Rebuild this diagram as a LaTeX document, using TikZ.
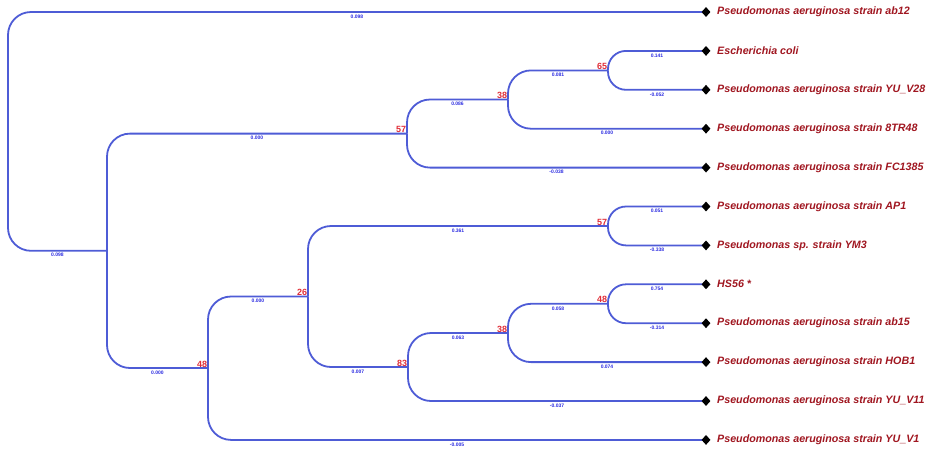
\documentclass[tikz,border=0pt]{standalone}
\usepackage{fontspec}
\setmainfont{Liberation Sans}
\usetikzlibrary{shapes.geometric}
\definecolor{branchblue}{RGB}{78,92,214}
\definecolor{lenblue}{RGB}{45,45,225}
\definecolor{bootred}{RGB}{225,45,55}
\definecolor{leafred}{RGB}{160,22,32}
\tikzset{
  br/.style={draw=branchblue, line width=1.8pt, rounded corners=23pt},
  brs/.style={draw=branchblue, line width=1.8pt, rounded corners=18pt},
  blen/.style={font=\fontsize{5}{5.5}\selectfont\bfseries, text=lenblue, inner sep=0.5pt, below=1.4pt},
  boot/.style={font=\fontsize{9}{10}\selectfont\bfseries, text=bootred, inner sep=0.6pt, anchor=south east},
  leafmark/.style={diamond, fill=black, inner sep=0pt, minimum width=9pt, minimum height=10pt},
  leaftxt/.style={font=\fontsize{10.7}{12}\selectfont\bfseries\itshape, text=leafred, anchor=west, inner sep=0pt}
}
\begin{document}
\begin{tikzpicture}[x=1pt, y=-1pt]
\useasboundingbox (0,0) rectangle (928,451);
% leaf end points
\coordinate (e1) at (706,12);
\coordinate (e2) at (706,50.9);
\coordinate (e3) at (706,89.8);
\coordinate (e4) at (706,128.7);
\coordinate (e5) at (706,167.6);
\coordinate (e6) at (706,206.5);
\coordinate (e7) at (706,245.4);
\coordinate (e8) at (706,284.3);
\coordinate (e9) at (706,323.2);
\coordinate (e10) at (706,362.1);
\coordinate (e11) at (706,401);
\coordinate (e12) at (706,439.9);
% internal nodes
\coordinate (nA) at (107,250.8);
\coordinate (nB) at (407,133.6);
\coordinate (nC) at (508,99.5);
\coordinate (nD) at (608,70.4);
\coordinate (nE) at (208,368);
\coordinate (nF) at (308,296.5);
\coordinate (nG) at (608,226);
\coordinate (nH) at (408,367);
\coordinate (nI) at (508,333);
\coordinate (nJ) at (608,303.8);
\coordinate (rootA) at (8,250.8);
\coordinate (rootM) at (8,131);
% root
\draw[br] (nA) -| (rootM) |- (e1) node[pos=0.75, blen] {0.098};
\path (nA) -- (rootA) node[midway, blen] {0.098};
% upper clade
\draw[br] (nA) |- (nB) node[pos=0.75, blen] {0.000};
\draw[br] (nB) |- (nC) node[pos=0.75, blen] {0.086};
\draw[br] (nB) |- (e5) node[pos=0.75, blen] {-0.038};
\draw[br] (nC) |- (nD) node[pos=0.75, blen] {0.081};
\draw[br] (nC) |- (e4) node[pos=0.75, blen] {0.000};
\draw[brs] (nD) |- (e2) node[pos=0.75, blen] {0.141};
\draw[brs] (nD) |- (e3) node[pos=0.75, blen] {-0.052};
% lower clade
\draw[br] (nA) |- (nE) node[pos=0.75, blen] {0.000};
\draw[br] (nE) |- (nF) node[pos=0.75, blen] {0.000};
\draw[br] (nE) |- (e12) node[pos=0.75, blen] {-0.005};
\draw[br] (nF) |- (nG) node[pos=0.75, blen] {0.361};
\draw[br] (nF) |- (nH) node[pos=0.75, blen] {0.007};
\draw[brs] (nG) |- (e6) node[pos=0.75, blen] {0.051};
\draw[brs] (nG) |- (e7) node[pos=0.75, blen] {-0.338};
\draw[br] (nH) |- (nI) node[pos=0.75, blen] {0.063};
\draw[br] (nH) |- (e11) node[pos=0.75, blen] {-0.037};
\draw[br] (nI) |- (nJ) node[pos=0.75, blen] {0.058};
\draw[br] (nI) |- (e10) node[pos=0.75, blen] {0.074};
\draw[brs] (nJ) |- (e8) node[pos=0.75, blen] {0.754};
\draw[brs] (nJ) |- (e9) node[pos=0.75, blen] {-0.314};
% bootstrap values
\node[boot] (bB) at (nB) {57};
\node[boot] (bC) at (nC) {38};
\node[boot] (bD) at (nD) {65};
\node[boot] (bE) at (nE) {48};
\node[boot] (bF) at (nF) {26};
\node[boot] (bG) at (nG) {57};
\node[boot] (bH) at (nH) {83};
\node[boot] (bI) at (nI) {38};
\node[boot] (bJ) at (nJ) {48};
% leaves
\foreach \i in {1,...,12} {\node[leafmark] (d\i) at (e\i) {};}
\node[leaftxt] (t1) at ([xshift=11pt]e1) {Pseudomonas aeruginosa strain ab12};
\node[leaftxt] (t2) at ([xshift=11pt]e2) {Escherichia coli};
\node[leaftxt] (t3) at ([xshift=11pt]e3) {Pseudomonas aeruginosa strain YU\_V28};
\node[leaftxt] (t4) at ([xshift=11pt]e4) {Pseudomonas aeruginosa strain 8TR48};
\node[leaftxt] (t5) at ([xshift=11pt]e5) {Pseudomonas aeruginosa strain FC1385};
\node[leaftxt] (t6) at ([xshift=11pt]e6) {Pseudomonas aeruginosa strain AP1};
\node[leaftxt] (t7) at ([xshift=11pt]e7) {Pseudomonas sp. strain YM3};
\node[leaftxt] (t8) at ([xshift=11pt]e8) {HS56 *};
\node[leaftxt] (t9) at ([xshift=11pt]e9) {Pseudomonas aeruginosa strain ab15};
\node[leaftxt] (t10) at ([xshift=11pt]e10) {Pseudomonas aeruginosa strain HOB1};
\node[leaftxt] (t11) at ([xshift=11pt]e11) {Pseudomonas aeruginosa strain YU\_V11};
\node[leaftxt] (t12) at ([xshift=11pt]e12) {Pseudomonas aeruginosa strain YU\_V1};
\end{tikzpicture}
\end{document}
